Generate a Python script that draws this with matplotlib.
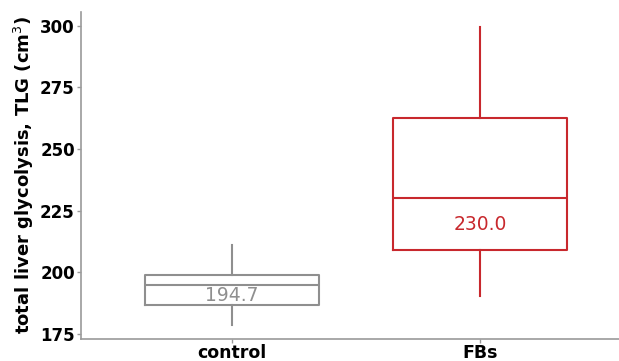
import matplotlib
matplotlib.use("Agg")
import matplotlib.pyplot as plt

# TLG summary per group (box stats)
groups = ["control", "FBs"]
whisker_lo = [178.6, 190.4]
q1 = [186.8, 209.0]
median = [194.7, 230.0]
q3 = [198.9, 262.6]
whisker_hi = [211.1, 299.5]
colors = ["#8f8f8f", "#c8282d"]
yticks = [175, 200, 225, 250, 275, 300]

fig = plt.figure(figsize=(6.19, 3.61), dpi=100)
ax = fig.add_axes([81 / 619, 22 / 361, 1 - 81 / 619, (339 - 12) / 361])

stats = []
for i, g in enumerate(groups):
    stats.append(dict(label=g, whislo=whisker_lo[i], q1=q1[i], med=median[i],
                      q3=q3[i], whishi=whisker_hi[i], fliers=[]))

positions = [1, 2]
for i, s in enumerate(stats):
    c = colors[i]
    lw = 1.5
    ax.bxp([s], positions=[positions[i]], widths=0.7, showcaps=False,
           boxprops=dict(color=c, linewidth=lw),
           medianprops=dict(color=c, linewidth=lw),
           whiskerprops=dict(color=c, linewidth=lw))
    ax.text(positions[i], (median[i] + q1[i]) / 2, f"{median[i]:.1f}",
            color=c, ha="center", va="center", fontsize=13.5)

ax.set_xlim(0.39, 2.56)
ax.set_ylim(173, 305.5)
ax.set_yticks(yticks)
ax.set_xticks(positions)
ax.set_xticklabels(groups, fontsize=12.5, fontweight="bold")
for lab in ax.get_yticklabels():
    lab.set_fontsize(12)
    lab.set_fontweight("bold")
ax.set_ylabel("total liver glycolysis, TLG (cm$^3$)", fontsize=13, fontweight="bold",
              labelpad=3)

for side in ["top", "right"]:
    ax.spines[side].set_visible(False)
for side in ["left", "bottom"]:
    ax.spines[side].set_color("#9a9a9a")
    ax.spines[side].set_linewidth(1.2)
ax.tick_params(axis="both", colors="#9a9a9a", length=3, width=1, labelcolor="black", pad=1.5)
ax.tick_params(axis="x", pad=0.5)

fig.savefig("out.png", dpi=100)
